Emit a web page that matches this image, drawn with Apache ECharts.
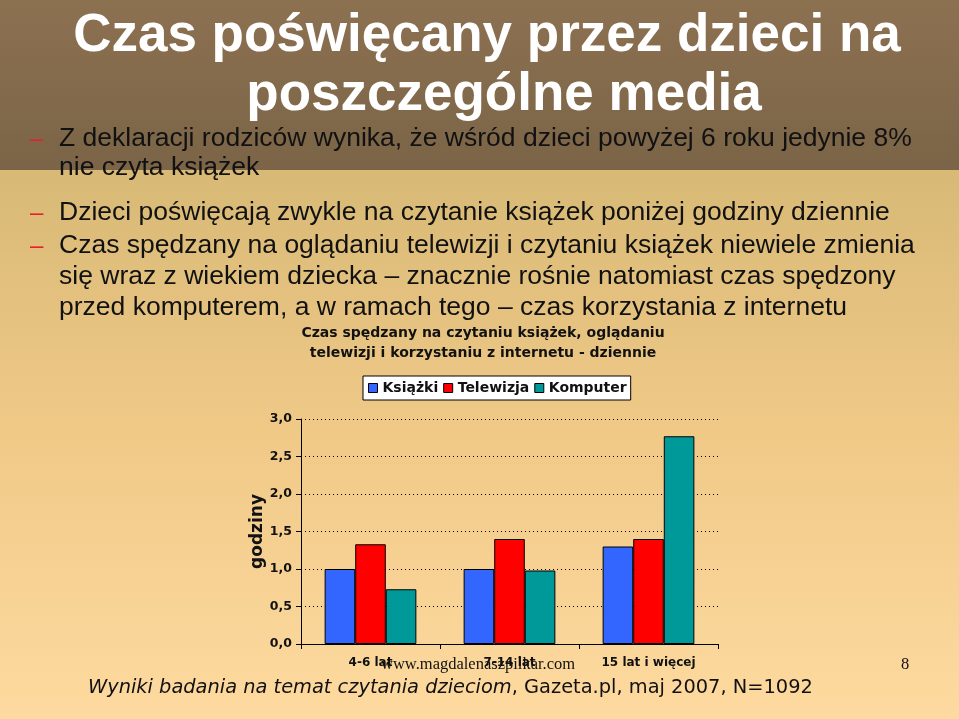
<!DOCTYPE html>
<html><head><meta charset="utf-8">
<script src="https://cdn.jsdelivr.net/npm/echarts@6/dist/echarts.min.js"></script>
<style>html,body{margin:0;padding:0;background:#fff}#c{width:959px;height:719px}</style>
</head><body><div id="c"></div>
<script>
var categories = ['4-6 lat', '7-14 lat', '15 lat i więcej'];
var seriesNames = ['Książki', 'Telewizja', 'Komputer'];
var books = [1.0, 1.0, 1.3];
var tv = [1.33, 1.40, 1.40];
var computer = [0.73, 0.98, 2.77];
var yTicks = ['0,0', '0,5', '1,0', '1,5', '2,0', '2,5', '3,0'];
var slideTitle = ['Czas poświęcany przez dzieci na', 'poszczególne media'];
var bulletLines = [
  {dash: true, text: 'Z deklaracji rodziców wynika, że wśród dzieci powyżej 6 roku jedynie 8%'},
  {dash: false, text: 'nie czyta książek'},
  {dash: true, text: 'Dzieci poświęcają zwykle na czytanie książek poniżej godziny dziennie'},
  {dash: true, text: 'Czas spędzany na oglądaniu telewizji i czytaniu książek niewiele zmienia'},
  {dash: false, text: 'się wraz z wiekiem dziecka – znacznie rośnie natomiast czas spędzony'},
  {dash: false, text: 'przed komputerem, a w ramach tego – czas korzystania z internetu'}
];
var chartTitle = 'Czas spędzany na czytaniu książek, oglądaniu\ntelewizji i korzystaniu z internetu - dziennie';
var yAxisName = 'godziny';
var footerItalic = 'Wyniki badania na temat czytania dzieciom';
var footerNormal = ', Gazeta.pl, maj 2007, N=1092';
var website = 'www.magdalenaszpilkar.com';
var pageNumber = '8';

var colors = ['#3366FF', '#FF0000', '#009999'];
var lineY = [139, 168, 213, 246, 277, 308];

var graphics = [
  {type: 'rect', z: -10, shape: {x: 0, y: 0, width: 959, height: 719}, style: {fill: new echarts.graphic.LinearGradient(0, 0, 0, 1, [{offset: 0, color: '#D8B976'}, {offset: 0.24, color: '#D8B976'}, {offset: 0.6, color: '#F0C987'}, {offset: 1, color: '#FEDAA0'}])}},
  {type: 'rect', z: -9, shape: {x: 0, y: 0, width: 959, height: 170}, style: {fill: new echarts.graphic.LinearGradient(0, 0, 0, 1, [{offset: 0, color: '#8C7151'}, {offset: 1, color: '#7B6447'}])}},
  {type: 'text', x: 487, y: 36, style: {text: slideTitle[0], fill: '#fff', font: 'bold 53px "Liberation Sans", Arial, sans-serif', textAlign: 'center', textVerticalAlign: 'middle'}},
  {type: 'text', x: 504, y: 95, style: {text: slideTitle[1], fill: '#fff', font: 'bold 53px "Liberation Sans", Arial, sans-serif', textAlign: 'center', textVerticalAlign: 'middle'}}
];
bulletLines.forEach(function (b, i) {
  if (b.dash) {
    graphics.push({type: 'text', x: 30, y: lineY[i], style: {text: '–', fill: '#E8202C', font: '24px "Liberation Sans", Arial, sans-serif', textVerticalAlign: 'middle'}});
  }
  graphics.push({type: 'text', x: 59, y: lineY[i], style: {text: b.text, fill: '#111', font: '26.5px "Liberation Sans", Arial, sans-serif', textVerticalAlign: 'middle'}});
});
graphics.push({type: 'text', x: 483, y: 343, style: {text: chartTitle, fill: '#111', font: 'bold 14px "DejaVu Sans", sans-serif', textAlign: 'center', textVerticalAlign: 'middle', lineHeight: 20}});
graphics.push({type: 'text', z: 50, x: 381, y: 665, style: {text: website, fill: '#111', font: '16.5px "Liberation Serif", "Times New Roman", serif', textVerticalAlign: 'middle'}});
graphics.push({type: 'text', x: 905, y: 665, style: {text: pageNumber, fill: '#111', font: '16.5px "Liberation Serif", "Times New Roman", serif', textAlign: 'center', textVerticalAlign: 'middle'}});
graphics.push({type: 'text', x: 88, y: 688, style: {
  text: '{i|' + footerItalic + '}{n|' + footerNormal + '}',
  textVerticalAlign: 'middle',
  rich: {
    i: {fill: '#111', font: 'italic 19.4px "DejaVu Sans", sans-serif'},
    n: {fill: '#111', font: '19.4px "DejaVu Sans", sans-serif'}
  }
}});

var chart = echarts.init(document.getElementById('c'), null, {renderer: 'canvas'});
var data = [books, tv, computer];
chart.setOption({
  animation: false,
  color: colors,
  graphic: graphics,
  legend: {
    left: 363, top: 376,
    data: seriesNames,
    itemWidth: 9, itemHeight: 9, itemGap: 5,
    padding: [5, 4, 5, 5],
    backgroundColor: '#fff', borderColor: '#000', borderWidth: 1,
    icon: 'rect',
    textStyle: {fontFamily: 'DejaVu Sans', fontWeight: 'bold', fontSize: 14, color: '#111', padding: [0, 0, 0, 0]},
    itemStyle: {borderColor: '#000', borderWidth: 1}
  },
  grid: {left: 301, right: 241, top: 419, bottom: 75, containLabel: false},
  xAxis: {
    type: 'category', data: categories,
    axisLine: {lineStyle: {color: '#000', width: 1}},
    axisTick: {show: true, length: 5, lineStyle: {color: '#000'}},
    axisLabel: {margin: 13, fontFamily: 'DejaVu Sans', fontWeight: 'bold', fontSize: 12, color: '#111'}
  },
  yAxis: {
    type: 'value', min: 0, max: 3, interval: 0.5,
    name: yAxisName, nameLocation: 'middle', nameRotate: 90, nameGap: 35,
    nameTextStyle: {fontFamily: 'DejaVu Sans', fontWeight: 'bold', fontSize: 17, color: '#111'},
    axisLine: {show: true, lineStyle: {color: '#000', width: 1}},
    axisTick: {show: true, length: 5, lineStyle: {color: '#000'}},
    splitLine: {show: true, lineStyle: {color: '#000', type: [1, 3], width: 1}},
    axisLabel: {margin: 9, fontFamily: 'DejaVu Sans', fontWeight: 'bold', fontSize: 12.5, color: '#111',
      formatter: function (v) { return yTicks[Math.round(v / 0.5)]; }}
  },
  series: seriesNames.map(function (n, i) {
    return {
      name: n, type: 'bar', data: data[i],
      barGap: '0%', barCategoryGap: '34%',
      itemStyle: {color: colors[i], borderColor: '#000', borderWidth: 1}
    };
  })
});
</script></body></html>
